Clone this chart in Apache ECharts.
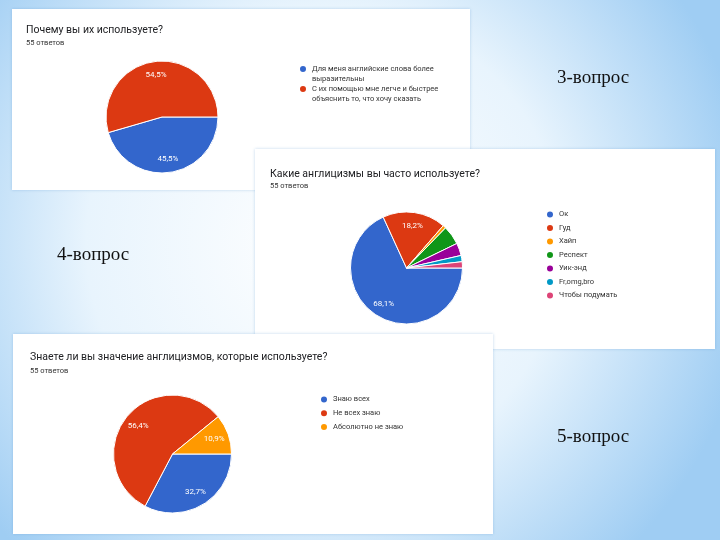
<!DOCTYPE html>
<html>
<head>
<meta charset="utf-8">
<script src="https://cdn.jsdelivr.net/npm/echarts@6/dist/echarts.min.js"></script>
<style>
  html, body { margin: 0; padding: 0; }
  #main { width: 720px; height: 540px; }
</style>
</head>
<body>
<div id="main"></div>
<script>
// вопрос 3
var q3Title = 'Почему вы их используете?';
var q3Names = ['Для меня английские слова более выразительны', 'С их помощью мне легче и быстрее объяснить то, что хочу сказать'];
var q3Values = [45.5, 54.5];

// вопрос 4
var q4Title = 'Какие англицизмы вы часто используете?';
var q4Names = ['Ок', 'Гуд', 'Хайп', 'Респект', 'Уик-энд', 'Fr,omg,bro', 'Чтобы подумать'];
var q4Values = [68.1, 18.2, 0.9, 5.5, 3.6, 1.8, 1.8];

// вопрос 5
var q5Title = 'Знаете ли вы значение англицизмов, которые используете?';
var q5Names = ['Знаю всех', 'Не всех знаю', 'Абсолютно не знаю'];
var q5Values = [32.7, 56.4, 10.9];

var answersText = '55 ответов';
var slideLabels = ['3-вопрос', '4-вопрос', '5-вопрос'];

var gColors = ['#3366cc', '#dc3912', '#ff9900', '#109618', '#990099', '#0099c6', '#dd4477'];

function toData(names, values, transparent) {
    return names.map(function (n, i) {
        return { name: n, value: values[i], itemStyle: { color: transparent ? 'rgba(0,0,0,0)' : gColors[i] } };
    });
}

function pct(p) {
    return p.value.toFixed(1).replace('.', ',') + '%';
}

// перенос длинной подписи легенды (пустая первая строка — чтобы кружок стоял у первой строки)
function wrap(s, n) {
    var lines = [], cur = '';
    s.split(' ').forEach(function (w) {
        if (cur && (cur + ' ' + w).length > n) { lines.push(cur); cur = w; }
        else cur = cur ? cur + ' ' + w : w;
    });
    lines.push(cur);
    return ' \n' + lines.join('\n');
}

// основной круг + прозрачный слой для подписей (подписи ближе к краю)
function pieSeries(names, values, center, r) {
    return [{
        type: 'pie',
        center: center,
        radius: [0, r],
        startAngle: 0,
        clockwise: true,
        data: toData(names, values, false),
        label: { show: false },
        labelLine: { show: false },
        itemStyle: { borderColor: '#fff', borderWidth: 1 },
        emphasis: { disabled: true },
        silent: true
    }, {
        type: 'pie',
        center: center,
        radius: [r * 0.4, r],
        startAngle: 0,
        clockwise: true,
        data: toData(names, values, true),
        itemStyle: { borderWidth: 0 },
        label: {
            show: true,
            position: 'inside',
            color: '#fff',
            fontFamily: 'Roboto',
            fontSize: 8,
            formatter: function (p) { return p.value >= 10 ? pct(p) : ''; }
        },
        labelLine: { show: false },
        emphasis: { disabled: true },
        silent: true
    }];
}

var legendText = { fontFamily: 'Roboto', fontSize: 7.5, color: '#333', lineHeight: 9 };
var panelStyle = { fill: '#fff', shadowBlur: 3, shadowColor: 'rgba(80,140,200,0.35)' };
var slideFont = '19px "Liberation Serif"';

var myChart = echarts.init(document.getElementById('main'));

myChart.setOption({
    animation: false,
    graphic: [
        {
            type: 'rect', z: 0, z2: 0,
            shape: { x: 0, y: 0, width: 720, height: 540 },
            style: {
                fill: new echarts.graphic.RadialGradient(0.45, 0.45, 0.8, [
                    { offset: 0, color: '#ffffff' },
                    { offset: 0.55, color: '#e8f4fd' },
                    { offset: 1, color: '#9fcdf3' }
                ])
            }
        },
        { type: 'rect', z: 1, z2: 1, shape: { x: 12, y: 9, width: 458, height: 181 }, style: panelStyle },
        { type: 'rect', z: 1, z2: 2, shape: { x: 255, y: 149, width: 460, height: 200 }, style: panelStyle },
        { type: 'rect', z: 1, z2: 3, shape: { x: 13, y: 334, width: 480, height: 200 }, style: panelStyle },
        { type: 'text', z: 1, z2: 4, x: 557, y: 78, style: { text: slideLabels[0], font: slideFont, fill: '#111', verticalAlign: 'middle' } },
        { type: 'text', z: 1, z2: 4, x: 57, y: 255, style: { text: slideLabels[1], font: slideFont, fill: '#111', verticalAlign: 'middle' } },
        { type: 'text', z: 1, z2: 4, x: 557, y: 437, style: { text: slideLabels[2], font: slideFont, fill: '#111', verticalAlign: 'middle' } }
    ],
    title: [
        { text: q3Title, subtext: answersText, left: 26, top: 23, padding: 0, itemGap: 1,
          textStyle: { fontFamily: 'Roboto', fontSize: 10.5, fontWeight: 'normal', color: '#202124', lineHeight: 14 },
          subtextStyle: { fontFamily: 'Roboto', fontSize: 7.5, color: '#333', lineHeight: 10 } },
        { text: q4Title, subtext: answersText, left: 270, top: 167, padding: 0, itemGap: 0,
          textStyle: { fontFamily: 'Roboto', fontSize: 10.5, fontWeight: 'normal', color: '#202124', lineHeight: 14 },
          subtextStyle: { fontFamily: 'Roboto', fontSize: 7.5, color: '#333', lineHeight: 10 } },
        { text: q5Title, subtext: answersText, left: 30, top: 350, padding: 0, itemGap: 2,
          textStyle: { fontFamily: 'Roboto', fontSize: 10.5, fontWeight: 'normal', color: '#202124', lineHeight: 14 },
          subtextStyle: { fontFamily: 'Roboto', fontSize: 7.5, color: '#333', lineHeight: 10 } }
    ],
    legend: [
        { data: q3Names, orient: 'vertical', left: 298, top: 54, padding: 0, itemGap: -10,
          icon: 'circle', itemWidth: 8, itemHeight: 8, selectedMode: false,
          formatter: function (name) { return wrap(name, 33); },
          textStyle: { fontFamily: 'Roboto', fontSize: 7.5, color: '#333', lineHeight: 10 } },
        { data: q4Names, orient: 'vertical', left: 545, top: 209.5, padding: 0, itemGap: 3.5,
          icon: 'circle', itemWidth: 8, itemHeight: 8, selectedMode: false, textStyle: legendText },
        { data: q5Names, orient: 'vertical', left: 319, top: 394.5, padding: 0, itemGap: 3.7,
          icon: 'circle', itemWidth: 8, itemHeight: 8, selectedMode: false, textStyle: legendText }
    ],
    series: [].concat(
        pieSeries(q3Names, q3Values, [162, 117], 56),
        pieSeries(q4Names, q4Values, [406.5, 268], 56),
        pieSeries(q5Names, q5Values, [172.5, 454], 59)
    )
});
</script>
</body>
</html>
